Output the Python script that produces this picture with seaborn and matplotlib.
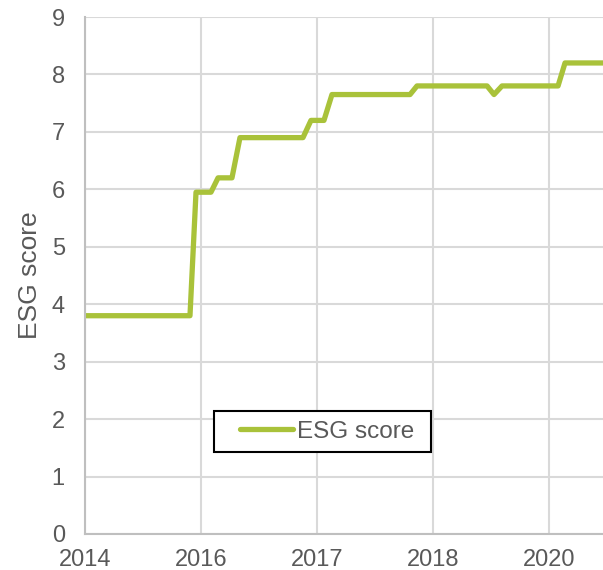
import matplotlib
matplotlib.use("Agg")
import matplotlib.pyplot as plt
import seaborn as sns
import pandas as pd
from matplotlib.legend_handler import HandlerLine2D
from matplotlib.patches import Rectangle

# Data (x in tick-interval units)
x_pos = [0.0, 0.905, 0.957, 1.086, 1.147, 1.267, 1.336, 1.879, 1.948, 2.06,
         2.129, 2.802, 2.862, 3.466, 3.526, 3.595, 4.078, 4.138, 4.6]
esg_score = [3.8, 3.8, 5.95, 5.95, 6.2, 6.2, 6.9, 6.9, 7.2, 7.2,
             7.65, 7.65, 7.8, 7.8, 7.65, 7.8, 7.8, 8.2, 8.2]
tick_positions = [0, 1, 2, 3, 4]
tick_labels = ["2014", "2016", "2017", "2018", "2020"]
y_ticks = list(range(0, 10))

sns.set_theme(style="white")
plt.rcParams["font.family"] = ["Liberation Sans", "DejaVu Sans"]

text_color = "#595959"
grid_color = "#d9d9d9"
line_color = "#a9c23a"

fig = plt.figure(figsize=(6.03, 5.70), dpi=100)
ax = fig.add_axes([85 / 603, 1 - 534 / 570, 1 - 85 / 603, (534 - 17) / 570])

df = pd.DataFrame({"x": x_pos, "ESG score": esg_score})
sns.lineplot(data=df, x="x", y="ESG score", ax=ax, sort=False, estimator=None,
             color=line_color, linewidth=3.8, label="ESG score")

ax.set_xlim(0, 518 / 116)
ax.set_ylim(0, 9)
ax.set_xticks(tick_positions)
ax.set_xticklabels(tick_labels)
ax.set_yticks(y_ticks)
ax.grid(True, color=grid_color, linewidth=1.5)
ax.set_axisbelow(True)
for s in ["top", "right"]:
    ax.spines[s].set_visible(False)
for s in ["left", "bottom"]:
    ax.spines[s].set_color("#bfbfbf")
    ax.spines[s].set_linewidth(1.5)
ax.tick_params(axis="both", length=0, labelsize=17, colors=text_color)
ax.tick_params(axis="y", pad=14.5)
ax.tick_params(axis="x", pad=11)
ax.set_xlabel("")
ax.set_ylabel("ESG score", fontsize=19, color=text_color, labelpad=7)


class OffsetLineHandler(HandlerLine2D):
    def create_artists(self, legend, orig_handle, xdescent, ydescent, width,
                       height, fontsize, trans):
        arts = super().create_artists(legend, orig_handle, xdescent, ydescent,
                                      width, height, fontsize, trans)
        shift = 11.5  # points of empty space before the line
        for a in arts:
            xd = a.get_xdata()
            yd = a.get_ydata()
            if len(xd) >= 2:
                a.set_data([-xdescent + shift, -xdescent + width], [yd[0], yd[0]])
            a.set_solid_capstyle("round")
        return arts


handles, labels = ax.get_legend_handles_labels()
leg = ax.legend(handles, labels, loc="lower left", bbox_to_anchor=(0.249, 0.158),
                borderaxespad=0, frameon=False, fontsize=17.5,
                handlelength=2.85, handletextpad=0.15, borderpad=0.4,
                handler_map={handles[0]: OffsetLineHandler()})
for t in leg.get_texts():
    t.set_color(text_color)
leg.set_zorder(6)

# Frame drawn around the legend with a wider right margin, like the reference
fig.canvas.draw()
bb = leg.get_window_extent(fig.canvas.get_renderer())
extra_right = 7
frame = Rectangle((bb.x0, bb.y0), bb.width + extra_right, bb.height,
                  transform=None, fill=True, facecolor="white",
                  edgecolor="black", linewidth=1.5, zorder=4.5)
ax.add_artist(frame)

fig.savefig("out.png", dpi=100)
